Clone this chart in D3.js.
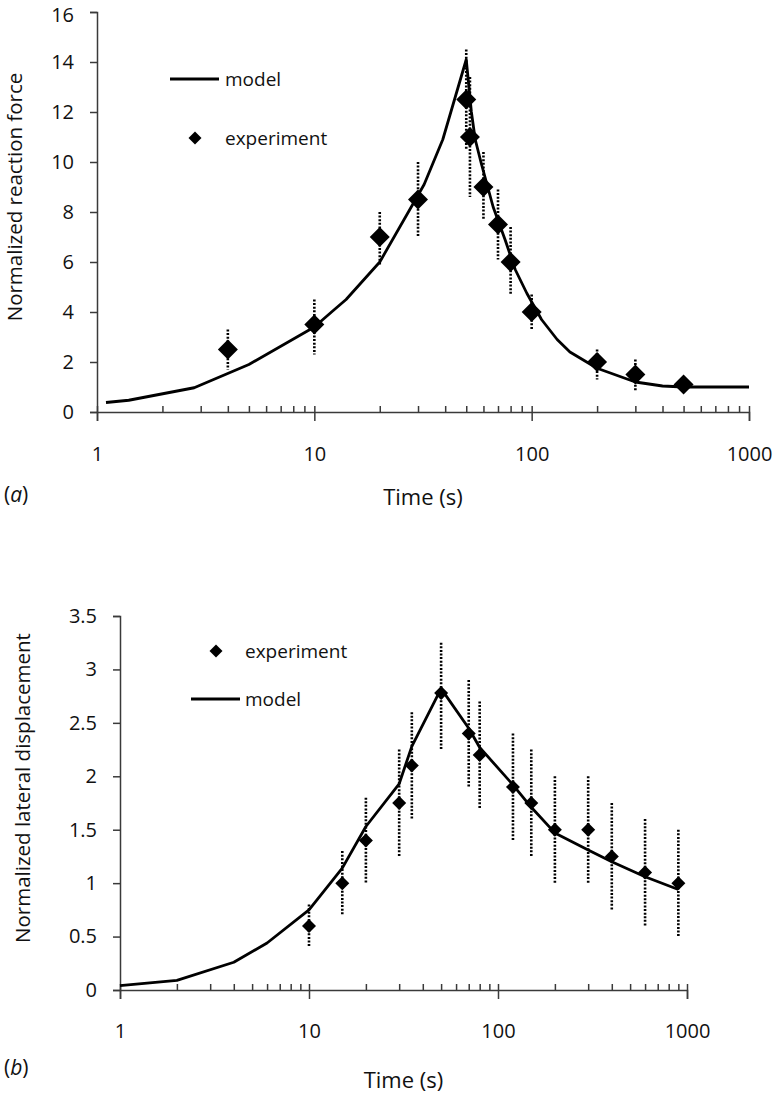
<!DOCTYPE html>
<html><head><meta charset="utf-8">
<script src="https://cdn.jsdelivr.net/npm/d3@7"></script>
<style>
html,body{margin:0;padding:0;background:#fff;}
svg text{font-family:"Open Sans",sans-serif;fill:#111;}
</style></head>
<body>
<svg id="c" width="776" height="1094"></svg>
<script>
// ---------- Panel (a): normalized reaction force ----------
const aModelT = [1.1,1.4,2.8,5,10,12,14,20,32,39,50,52.8,55,58.6,66.5,75.4,84,95,111,131,150,200,300,400,500,700,1000];
const aModelV = [0.38,0.47,0.97,1.9,3.4,4.0,4.5,6.0,9.1,10.9,14.1,12.0,10.9,9.95,8.2,6.9,5.7,4.75,3.7,2.9,2.4,1.75,1.2,1.04,1.0,1.0,1.0];
const aExpT  = [4,10,20,30,50,52,60,70,80,100,200,300,500];
const aExpV  = [2.5,3.5,7,8.5,12.5,11,9,7.5,6,4,2,1.5,1.1];
const aExpHi = [3.3,4.5,8,10,14.5,13.4,10.4,8.9,7.4,4.7,2.5,2.1,1.3];
const aExpLo = [1.7,2.3,5.9,7,10.5,8.6,7.7,6.1,4.7,3.3,1.3,0.8,0.9];
const aYTicks = [0,2,4,6,8,10,12,14,16];

// ---------- Panel (b): normalized lateral displacement ----------
const bModelT = [1,2,4,6,10,15,20,30,35,50,70,80,120,150,200,300,400,600,900];
const bModelV = [0.04,0.09,0.26,0.44,0.75,1.14,1.53,1.93,2.28,2.82,2.45,2.27,1.92,1.71,1.47,1.31,1.2,1.06,0.94];
const bExpT  = [10,15,20,30,35,50,70,80,120,150,200,300,400,600,900];
const bExpV  = [0.6,1.0,1.4,1.75,2.1,2.78,2.4,2.2,1.9,1.75,1.5,1.5,1.25,1.1,1.0];
const bExpHi = [0.8,1.3,1.8,2.25,2.6,3.25,2.9,2.7,2.4,2.25,2.0,2.0,1.75,1.6,1.5];
const bExpLo = [0.4,0.7,1.0,1.25,1.6,2.25,1.9,1.7,1.4,1.25,1.0,1.0,0.75,0.6,0.5];
const bYTicks = [0,0.5,1,1.5,2,2.5,3,3.5];

const xMajor = [1,10,100,1000];
const xMinor = [];
[1,10,100].forEach(d => { for (let k=2;k<=9;k++) xMinor.push(d*k); });

const svg = d3.select("#c");
const AX = "#3a3a3a";

function panel(cfg){
  const g = svg.append("g");
  const x = d3.scaleLog().domain([1,1000]).range([cfg.x0,cfg.x1]);
  const y = d3.scaleLinear().domain([0,cfg.yMax]).range([cfg.yB,cfg.yT]);

  // y axis
  const ya = g.append("g").attr("transform",`translate(${cfg.x0},0)`)
    .call(d3.axisLeft(y).tickValues(cfg.yTicks).tickSize(7).tickPadding(cfg.yPad).tickFormat(d3.format("")));
  ya.select(".domain").attr("stroke",AX).attr("stroke-width",1.5);
  ya.selectAll(".tick line").attr("stroke",AX).attr("stroke-width",1.5);
  ya.selectAll(".tick text").attr("font-size",cfg.tickFs).attr("font-family","Open Sans").attr("fill","#111")
    .attr("y",d=>d===cfg.yMax && cfg.topNudge ? cfg.topNudge : 0);

  // x axis: major ticks crossing, minor inside
  const xa = g.append("g").attr("transform",`translate(0,${cfg.yB})`)
    .call(d3.axisBottom(x).tickValues(xMajor).tickSize(9).tickPadding(cfg.xPad).tickFormat(d3.format("")));
  xa.select(".domain").attr("stroke",AX).attr("stroke-width",1.5);
  xa.selectAll(".tick line").attr("stroke",AX).attr("stroke-width",1.5).attr("y1",-6);
  xa.selectAll(".tick text").attr("font-size",cfg.tickFs).attr("font-family","Open Sans").attr("fill","#111");
  const xm = g.append("g").attr("transform",`translate(0,${cfg.yB})`)
    .call(d3.axisTop(x).tickValues(xMinor).tickSize(6).tickFormat(""));
  xm.select(".domain").remove();
  xm.selectAll(".tick line").attr("stroke",AX).attr("stroke-width",1.5);

  // error bars
  g.append("g").selectAll("line").data(cfg.expT).join("line")
    .attr("x1",(d)=>x(d)).attr("x2",(d)=>x(d))
    .attr("y1",(d,i)=>y(cfg.expHi[i])).attr("y2",(d,i)=>y(cfg.expLo[i]))
    .attr("stroke","#000").attr("stroke-width",2.6).attr("stroke-dasharray","2,1.6");

  // model line
  const line = d3.line().x(d=>x(d[0])).y(d=>y(d[1]));
  g.append("path").datum(cfg.modelT.map((t,i)=>[t,cfg.modelV[i]]))
    .attr("d",line).attr("fill","none").attr("stroke","#000").attr("stroke-width",2.8)
    .attr("stroke-linejoin","round");

  // experiment diamonds
  const r = cfg.dR;
  const diamond = (cx,cy,rr)=>`M${cx},${cy-rr}L${cx+rr},${cy}L${cx},${cy+rr}L${cx-rr},${cy}Z`;
  g.append("g").selectAll("path").data(cfg.expT).join("path")
    .attr("d",(d,i)=>diamond(x(d),y(cfg.expV[i]),r)).attr("fill","#000");

  // axis titles
  g.append("text").attr("x",(cfg.x0+cfg.x1)/2).attr("y",cfg.xTitleY)
    .attr("text-anchor","middle").attr("font-size",22).text("Time (s)");
  g.append("text").attr("transform",`translate(${cfg.yTitleX},${cfg.yTitleC}) rotate(-90)`)
    .attr("text-anchor","middle").attr("font-size",20.5).text(cfg.yTitle);
  const lab = g.append("text").attr("x",4).attr("y",cfg.labY).attr("font-size",21);
  lab.append("tspan").text("(");
  lab.append("tspan").attr("font-style","italic").text(cfg.label);
  lab.append("tspan").text(")");

  // legend
  cfg.legend.forEach(it=>{
    if (it.type==="line"){
      g.append("line").attr("x1",it.x-25).attr("x2",it.x+24).attr("y1",it.y).attr("y2",it.y)
        .attr("stroke","#000").attr("stroke-width",2.8);
    } else {
      g.append("path").attr("d",diamond(it.x,it.y,6.5)).attr("fill","#000");
    }
    g.append("text").attr("x",it.tx).attr("y",it.y).attr("dy","0.35em")
      .attr("font-size",19).text(it.text);
  });
}

panel({x0:97,x1:749,yT:12,yB:412,yMax:16,yTicks:aYTicks,yPad:16,xPad:26,tickFs:20,topNudge:3,
  modelT:aModelT,modelV:aModelV,expT:aExpT,expV:aExpV,expHi:aExpHi,expLo:aExpLo,dR:10,
  xTitleY:505,yTitleX:22,yTitleC:197,yTitle:"Normalized reaction force",label:"a",labY:502,
  legend:[{type:"line",x:195,y:79,tx:225,text:"model"},{type:"diamond",x:195,y:138,tx:225,text:"experiment"}]});

panel({x0:120,x1:687,yT:616,yB:990,yMax:3.5,yTicks:bYTicks,yPad:16,xPad:25,tickFs:20,topNudge:0,
  modelT:bModelT,modelV:bModelV,expT:bExpT,expV:bExpV,expHi:bExpHi,expLo:bExpLo,dR:7,
  xTitleY:1088,yTitleX:30,yTitleC:788,yTitle:"Normalized lateral displacement",label:"b",labY:1075,
  legend:[{type:"diamond",x:216,y:651,tx:245,text:"experiment"},{type:"line",x:216,y:699,tx:245,text:"model"}]});
</script>
</body></html>
